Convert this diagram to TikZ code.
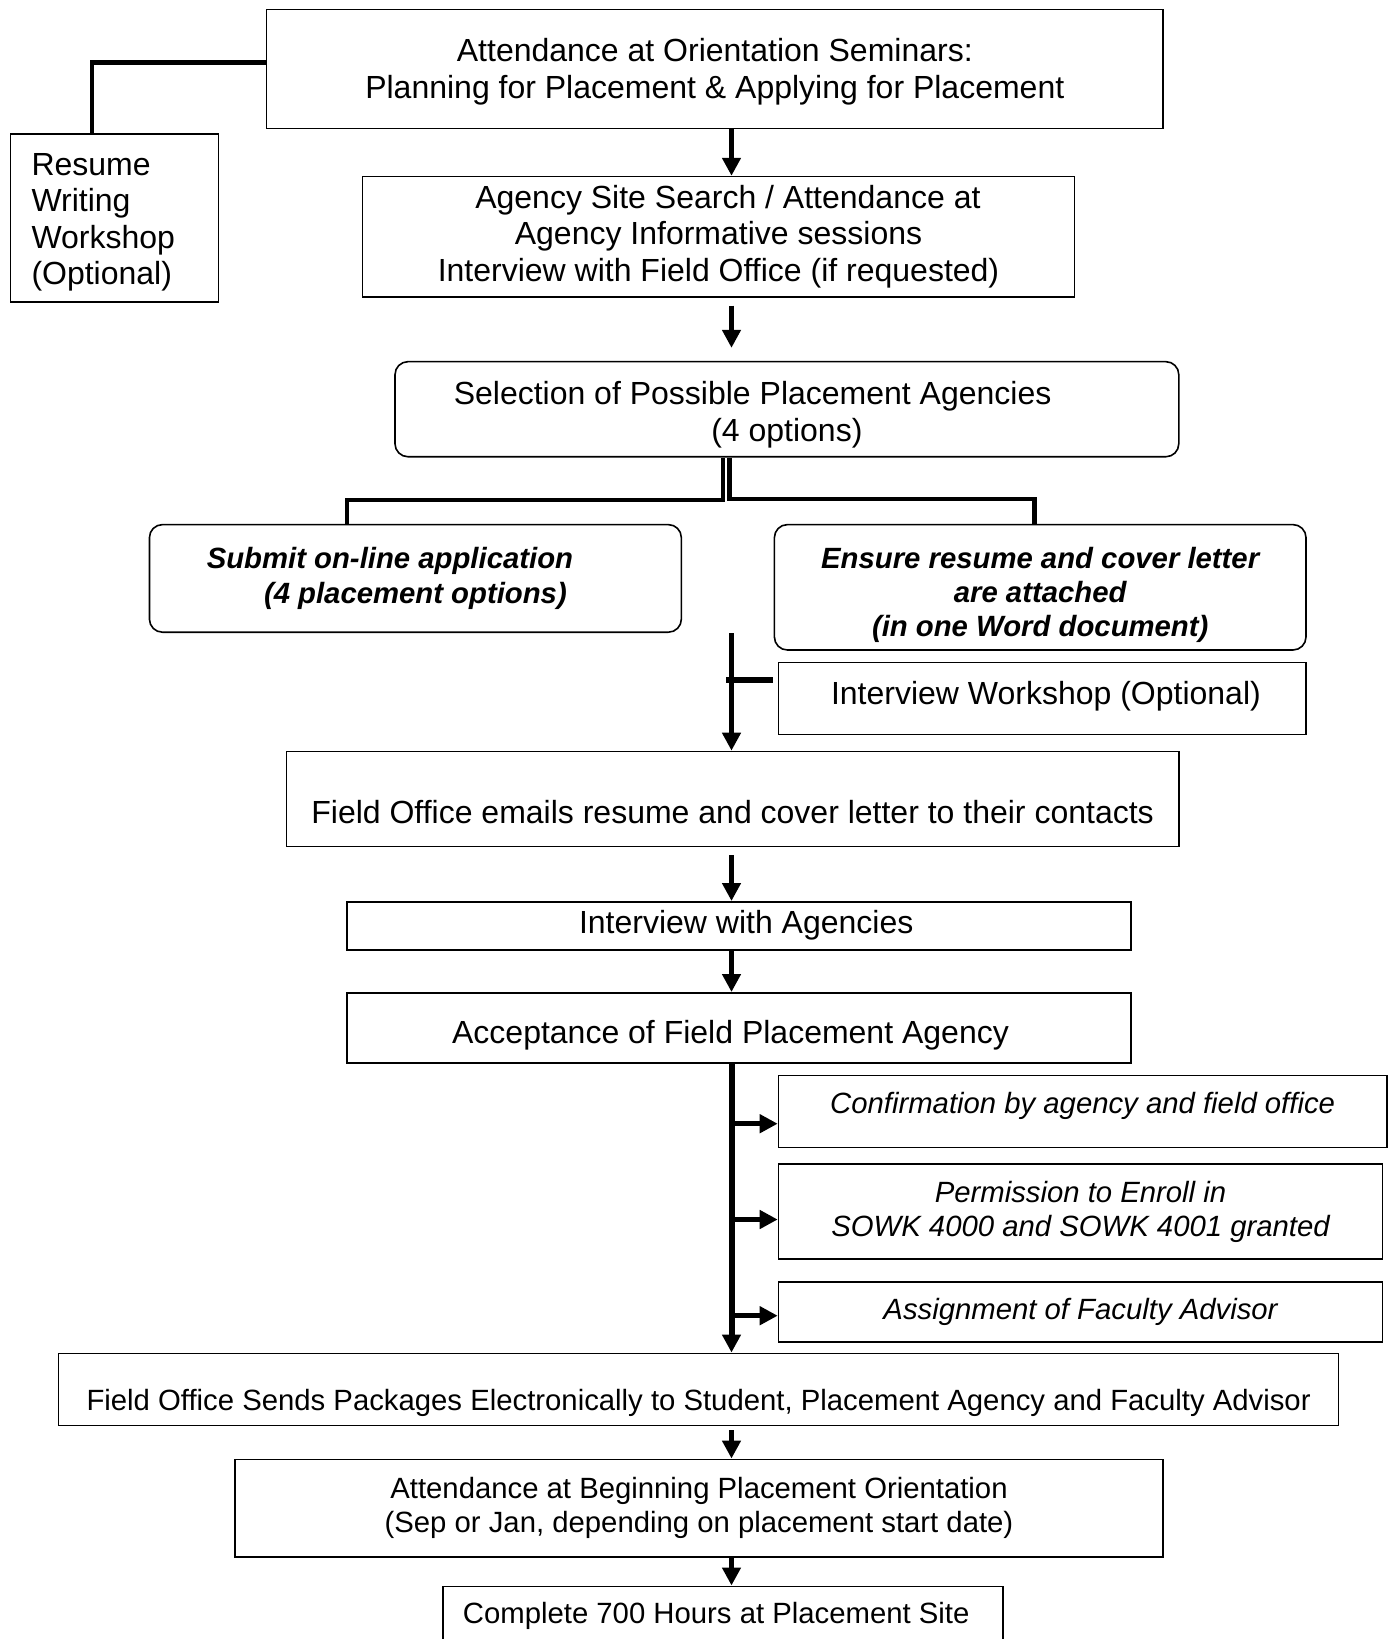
\documentclass[tikz,border=0pt]{standalone}
\usepackage{fontspec}
\setmainfont{Liberation Sans}
\usetikzlibrary{arrows.meta}

\newcommand{\boxfont}{\fontsize{29.3pt}{34.2pt}\selectfont}
\newcommand{\bigboxfont}{\fontsize{32pt}{36.6pt}\selectfont}
\newcommand{\toppad}[1]{\rule{0pt}{#1}}

\tikzset{
  box/.style={draw, line width=1.6pt, inner sep=0pt, align=center, font=\boxfont},
  bigbox/.style={box, font=\bigboxfont},
  rbox/.style={box, rounded corners=13pt},
  link/.style={line width=4.5pt},
  arr/.style={line width=5pt, -{Triangle[length=18pt,width=18pt]}},
}

\begin{document}
\begin{tikzpicture}[x=1pt,y=1pt,yscale=-1]
%set picture 1392 x 1639
\useasboundingbox (0,0) rectangle (1392,1639);

%Shape: Rectangle [orient]
\node[bigbox, minimum width=896.5pt, minimum height=119pt] (orient) at (714.8,69)
  {\toppad{28.6pt}Attendance at Orientation Seminars:\\Planning for Placement \& Applying for Placement};
%Shape: Rectangle [resume]
\node[bigbox, align=left, text width=166pt, inner xsep=21pt, minimum height=168pt] (resume) at (114.5,217.9)
  {\toppad{30.8pt}Resume\\Writing\\Workshop\\(Optional)};
%Shape: Rectangle [agency]
\node[bigbox, minimum width=711.7pt, minimum height=120.2pt] (agency) at (718.5,236.7)
  {\hspace*{18.8pt}Agency Site Search / Attendance at\\Agency Informative sessions\\Interview with Field Office (if requested)};
%Shape: Rounded Rect [select]
\node[bigbox, rounded corners=13pt, minimum width=783.8pt, minimum height=95.1pt] (select) at (786.9,409.2)
  {\toppad{34pt}Selection of Possible Placement Agencies\hspace*{68.6pt}\\(4 options)};
%Shape: Rounded Rect [submit]
\node[rbox, font=\boxfont\bfseries\itshape, minimum width=531.9pt, minimum height=107.6pt] (submit) at (415.4,578.4)
  {Submit on-line application\hspace*{51pt}\\(4 placement options)};
%Shape: Rounded Rect [ensure]
\node[rbox, font=\boxfont\bfseries\itshape, minimum width=531.6pt, minimum height=125.4pt] (ensure) at (1040.2,587.3)
  {\toppad{36.2pt}Ensure resume and cover letter\\are attached\\(in one Word document)};
%Shape: Rectangle [workshop]
\node[bigbox, minimum width=527.5pt, text height=41.5pt, text depth=30.6pt] (workshop) at (1042.3,698.6)
  {\hspace*{7.3pt}Interview Workshop (Optional)};
%Shape: Rectangle [emails]
\node[bigbox, minimum width=892.5pt, text height=71.6pt, text depth=23.5pt] (emails) at (732.6,799)
  {Field Office emails resume and cover letter to their contacts};
%Shape: Rectangle [ia]
\node[bigbox, minimum width=783.7pt, text height=31.2pt, text depth=17pt] (ia) at (738.9,925.9)
  {\hspace*{14.6pt}Interview with Agencies};
%Shape: Rectangle [acc]
\node[bigbox, minimum width=783.7pt, text height=50.2pt, text depth=19.8pt] (acc) at (738.9,1027.8)
  {Acceptance of Field Placement Agency\hspace*{16.8pt}};
%Shape: Rectangle [conf]
\node[box, font=\boxfont\itshape, minimum width=608.2pt, text height=38.2pt, text depth=33.9pt] (conf) at (1082.6,1111.4)
  {Confirmation by agency and field office};
%Shape: Rectangle [perm]
\node[box, font=\boxfont\itshape, minimum width=604pt, minimum height=95.1pt] (perm) at (1080.5,1211.7)
  {Permission to Enroll in\\SOWK 4000 and SOWK 4001 granted};
%Shape: Rectangle [assign]
\node[box, font=\boxfont\itshape, minimum width=604pt, text height=37.3pt, text depth=22.3pt] (assign) at (1080.5,1312)
  {Assignment of Faculty Advisor};
%Shape: Rectangle [sends]
\node[box, minimum width=1280.1pt, text height=56.7pt, text depth=15.4pt] (sends) at (698.6,1389.4)
  {Field Office Sends Packages Electronically to Student, Placement Agency and Faculty Advisor};
%Shape: Rectangle [begin]
\node[box, minimum width=928pt, minimum height=97.7pt] (begin) at (699,1508.2)
  {Attendance at Beginning Placement Orientation\\(Sep or Jan, depending on placement start date)};
%Shape: Rectangle [complete]
\node[box, minimum width=560pt, text height=37.3pt, text depth=36.7pt] (complete) at (723,1623.3)
  {Complete 700 Hours at Placement Site\hspace*{13.6pt}};

%Coordinates
\coordinate (spine) at (731.5,0);
\coordinate (rw) at (91.8,62.5);
\coordinate (splitL) at (723,500);
\coordinate (splitR) at (729.5,499);
\coordinate (stub) at (726,680);
\coordinate (b1) at (731.5,1123.7);
\coordinate (b2) at (731.5,1219.5);
\coordinate (b3) at (731.5,1315.7);

%Straight Lines
\draw[link] (orient.west |- rw) -- (rw) -- (rw |- resume.north);
\draw[arr] (orient.south -| spine) -- (agency.north -| spine);
\draw[arr, shorten <=8pt, shorten >=13pt] (agency.south -| spine) -- (select.north -| spine);
\draw[link] (select.south -| splitL) -- (splitL) -| ([xshift=-68.4pt]submit.north);
\draw[link] (select.south -| splitR) -- (splitR) -| ([xshift=-5.6pt]ensure.north);
\draw[arr] (submit.south -| spine) -- (emails.north -| spine);
\draw[link, line width=6pt, shorten >=4.5pt] (stub) -- (stub -| workshop.west);
\draw[arr, shorten <=8pt] (emails.south -| spine) -- (ia.north -| spine);
\draw[arr] (ia.south -| spine) -- (acc.north -| spine);
\draw[arr, line width=6pt] (acc.south -| spine) -- (sends.north -| spine);
\draw[arr] (b1) -- (b1 -| conf.west);
\draw[arr] (b2) -- (b2 -| perm.west);
\draw[arr] (b3) -- (b3 -| assign.west);
\draw[arr, shorten <=4pt] (sends.south -| spine) -- (begin.north -| spine);
\draw[arr] (begin.south -| spine) -- (complete.north -| spine);

\end{tikzpicture}
\end{document}
